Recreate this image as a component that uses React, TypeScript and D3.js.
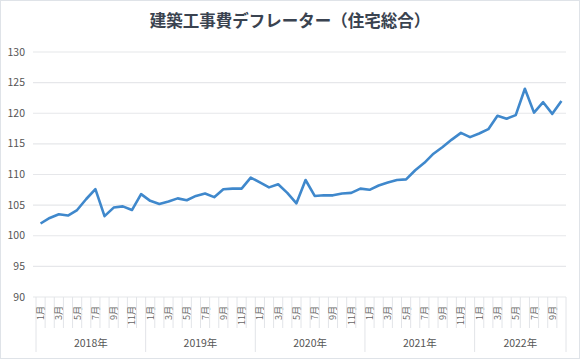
import { useEffect, useRef } from 'react';
import * as d3 from 'd3';

const W = 580, H = 359;
const TITLE = '建築工事費デフレーター（住宅総合）';
const YEARS = ['2018年', '2019年', '2020年', '2021年', '2022年'];
const MONTHS_PER_YEAR = [12, 12, 12, 12, 10];
const Y_TICKS = [90, 95, 100, 105, 110, 115, 120, 125, 130];
// 2018/1 .. 2022/10
const VALUES = [
  102.0, 102.9, 103.5, 103.3, 104.2, 106.0, 107.6, 103.2, 104.6, 104.8, 104.2, 106.8,
  105.7, 105.2, 105.6, 106.1, 105.8, 106.5, 106.9, 106.3, 107.6, 107.7, 107.7, 109.5,
  108.7, 107.9, 108.4, 107.0, 105.3, 109.1, 106.5, 106.6, 106.6, 106.9, 107.0, 107.7,
  107.5, 108.2, 108.7, 109.1, 109.2, 110.7, 111.9, 113.4, 114.5, 115.7, 116.8, 116.1,
  116.7, 117.4, 119.6, 119.1, 119.7, 124.0, 120.1, 121.8, 119.9, 122.0,
];

const FONT = '"Noto Sans CJK JP", "Noto Sans", sans-serif';
const M = { top: 52, bottom: 297, left: 36, right: 566 };

export default function App() {
  const ref = useRef<SVGSVGElement>(null);
  useEffect(() => {
    const svg = d3.select(ref.current); svg.selectAll('*').remove();
    svg.append('rect').attr('x', 0.5).attr('y', 0.5).attr('width', W - 1).attr('height', H - 1)
      .attr('fill', '#fff').attr('stroke', '#dfe3e8');
    svg.append('text').attr('x', W / 2).attr('y', 27).attr('text-anchor', 'middle')
      .attr('font-family', FONT).attr('font-size', 16.5).attr('font-weight', 'bold').attr('fill', '#3a4350').text(TITLE);

    const labels: { year: number; month: number }[] = [];
    MONTHS_PER_YEAR.forEach((n, yi) => { for (let m = 1; m <= n; m++) labels.push({ year: yi, month: m }); });
    const idx = labels.map((_, i) => i);
    const x = d3.scaleBand<number>().domain(idx).range([M.left, M.right]).padding(0);
    const y = d3.scaleLinear().domain([90, 130]).range([M.bottom, M.top]);

    svg.append('g').selectAll('line').data(Y_TICKS).join('line')
      .attr('x1', M.left - 3).attr('x2', M.right).attr('y1', d => y(d)).attr('y2', d => y(d))
      .attr('stroke', '#e6e7ea').attr('stroke-width', 1.2);
    svg.append('g').selectAll('text').data(Y_TICKS).join('text')
      .attr('x', 25).attr('y', d => y(d) + 3.5).attr('text-anchor', 'end')
      .attr('font-family', FONT).attr('font-size', 10.5).attr('fill', '#555').text(d => d);

    // category ticks
    const bw = x.bandwidth();
    const g = svg.append('g');
    idx.forEach(i => {
      const l = labels[i];
      const xl = x(i)!;
      g.append('line').attr('x1', xl).attr('x2', xl).attr('y1', M.bottom).attr('y2', l.month === 1 ? 352 : 328)
        .attr('stroke', '#e2e4e8').attr('stroke-width', 1);
      if (l.month % 2 === 1) {
        const cx = xl + bw / 2 + 3.5;
        g.append('text').attr('transform', `translate(${cx},306) rotate(-90)`).attr('text-anchor', 'end')
          .attr('font-family', FONT).attr('font-size', 9).attr('fill', '#666').text(`${l.month}月`);
      }
    });
    g.append('line').attr('x1', M.right).attr('x2', M.right).attr('y1', M.bottom).attr('y2', 352)
      .attr('stroke', '#e2e4e8');
    let start = 0;
    MONTHS_PER_YEAR.forEach((n, yi) => {
      const x0 = x(start)!, x1 = x(start + n - 1)! + bw;
      g.append('text').attr('x', (x0 + x1) / 2).attr('y', 347).attr('text-anchor', 'middle')
        .attr('font-family', FONT).attr('font-size', 10.5).attr('fill', '#555').text(YEARS[yi]);
      start += n;
    });

    const line = d3.line<number>().x((_, i) => x(i)! + bw / 2).y(d => y(d));
    svg.append('path').datum(VALUES).attr('d', line).attr('fill', 'none')
      .attr('stroke', '#3f88cc').attr('stroke-width', 2.6).attr('stroke-linejoin', 'round');
  }, []);
  return (
    <div style={{ position: 'absolute', left: 0, top: 0 }}>
      <svg ref={ref} width={W} height={H} style={{ display: 'block' }} />
    </div>
  );
}
